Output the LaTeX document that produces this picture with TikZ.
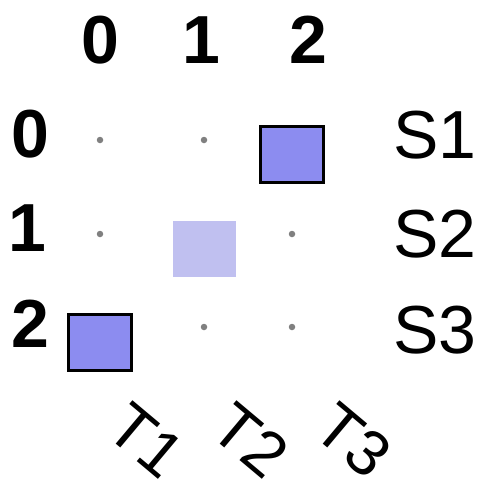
\documentclass[tikz,border=0pt]{standalone}
\usepackage{fontspec}
\setmainfont{Liberation Sans}
\definecolor{sqdark}{HTML}{8C8CF0}
\definecolor{sqlight}{HTML}{C0C0F0}
\definecolor{dotgray}{HTML}{808080}
\begin{document}
\begin{tikzpicture}[x=1pt,y=-1pt,
  dotmark/.style={circle,fill=dotgray,inner sep=0pt,minimum size=6.5pt},
  sqbox/.style={rectangle,inner sep=0pt,minimum width=63pt,minimum height=56pt},
  darkbox/.style={sqbox,fill=sqdark,draw=black,line width=3pt},
  lightbox/.style={sqbox,fill=sqlight},
  numlab/.style={inner sep=0pt,anchor=base,font=\fontsize{68}{68}\selectfont\bfseries},
  slab/.style={inner sep=0pt,anchor=base west,font=\fontsize{68}{68}\selectfont},
  tlab/.style={inner sep=0pt,anchor=base west,rotate=-40,font=\fontsize{64}{64}\selectfont}]
\useasboundingbox (0,0) rectangle (482,482);
% column labels
\node[numlab] (c0) at (100,63) {0};
\node[numlab] (c1) at (201,63) {1};
\node[numlab] (c2) at (308,63) {2};
% row labels
\node[numlab] (r0) at (30,157) {0};
\node[numlab] (r1) at (27,251) {1};
\node[numlab] (r2) at (30,347) {2};
% state labels
\node[slab] (s1) at (393,158) {S1};
\node[slab] (s2) at (393,257) {S2};
\node[slab] (s3) at (393,353) {S3};
% dots
\node[dotmark] (d00) at (100,140) {};
\node[dotmark] (d10) at (204,140) {};
\node[dotmark] (d01) at (100,234) {};
\node[dotmark] (d21) at (292,234) {};
\node[dotmark] (d12) at (204,327) {};
\node[dotmark] (d22) at (292,327) {};
% squares
\node[darkbox] (q20) at (292,154.5) {};
\node[lightbox] (q11) at (204.5,249) {};
\node[darkbox] (q02) at (100,342.5) {};
% time labels
\node[tlab] (t1) at (103,433.5) {T1};
\node[tlab] (t2) at (207,433.5) {T2};
\node[tlab] (t3) at (310,433.5) {T3};
\end{tikzpicture}
\end{document}
